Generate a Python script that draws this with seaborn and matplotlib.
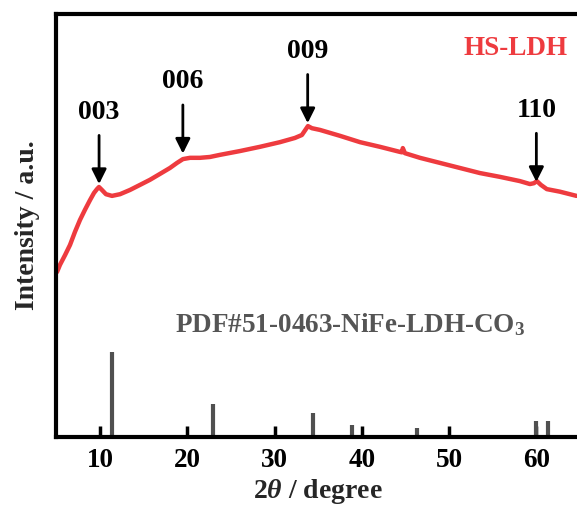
import matplotlib
matplotlib.use("Agg")
import matplotlib.pyplot as plt
import seaborn as sns
import pandas as pd

# ---- data ----
two_theta = [5.08, 5.42, 6.0, 6.57, 7.14, 7.71, 8.28, 8.86, 9.32, 9.66, 9.89, 10.23, 10.69,
             11.38, 12.3, 13.44, 14.59, 15.73, 16.88, 18.02, 18.83, 19.51, 20.32, 21.46,
             22.6, 23.75, 26.04, 28.33, 30.62, 32.34, 33.14, 33.6, 33.83, 34.29, 35.2,
             37.5, 39.8, 42.08, 44.37, 44.6, 44.7, 44.94, 46.66, 48.95, 51.24, 53.53, 55.82,
             58.11, 59.26, 59.72, 60.06, 60.52, 61.2, 62.69, 64.6]
intensity = [39.0, 40.7, 43.0, 45.4, 48.5, 51.3, 53.7, 56.0, 57.7, 58.6, 59.1, 58.4, 57.4,
             57.0, 57.4, 58.4, 59.6, 60.8, 62.2, 63.6, 64.8, 65.7, 66.0, 66.0,
             66.2, 66.7, 67.6, 68.6, 69.7, 70.7, 71.4, 72.8, 73.5, 73.0, 72.6,
             71.2, 69.7, 68.6, 67.4, 67.3, 68.3, 67.1, 66.0, 64.8, 63.6, 62.4, 61.5,
             60.5, 59.8, 60.0, 60.5, 59.6, 58.6, 58.0, 57.0]

pdf_pos = [11.4, 23.0, 34.4, 38.9, 46.3, 60.0, 61.3]
pdf_int = [20.1, 7.8, 5.7, 2.8, 2.1, 3.8, 3.8]

peak_labels = ["003", "006", "009", "110"]
peak_pos = [9.9, 19.5, 33.8, 60.0]
peak_tip = [59.8, 67.0, 74.2, 60.3]

x_ticks = [10, 20, 30, 40, 50, 60]

# ---- style ----
sns.set_style("ticks")
plt.rcParams["font.family"] = ["Liberation Serif", "DejaVu Serif"]
plt.rcParams["font.weight"] = "bold"
plt.rcParams["mathtext.fontset"] = "custom"
plt.rcParams["mathtext.rm"] = "Liberation Serif:bold"
plt.rcParams["mathtext.bf"] = "Liberation Serif:bold"
plt.rcParams["mathtext.it"] = "Liberation Serif:italic:bold"

fig = plt.figure(figsize=(5.77, 5.14), dpi=100)
ax = fig.add_axes([56.3 / 577, (514 - 437) / 514, (580 - 56.3) / 577, 423 / 514])

red = "#EE3B3F"
df = pd.DataFrame({"x": two_theta, "y": intensity})
sns.lineplot(data=df, x="x", y="y", ax=ax, color=red, lw=3.2, sort=False)

ax.vlines(pdf_pos, 0, pdf_int, color="#505050", lw=3)

for lab, px, tip in zip(peak_labels, peak_pos, peak_tip):
    ax.annotate("", xy=(px, tip), xytext=(px, tip + 11.5),
                arrowprops=dict(arrowstyle="-|>", lw=2, color="black",
                                mutation_scale=22, shrinkA=0, shrinkB=0))
    ax.text(px, tip + 14.0, lab, ha="center", va="bottom", fontsize=20,
            fontweight="bold", color="black")

ax.text(63.6, 91.8, "HS-LDH", ha="right", va="center", fontsize=19.5,
        fontweight="bold", color=red)
ax.text(18.6, 26.5, "PDF#51-0463-NiFe-LDH-CO$_3$", ha="left", va="center",
        fontsize=19.5, fontweight="bold", color="#555555")

ax.set_xlim(5, 65)
ax.set_ylim(0, 100)
ax.set_xticks(x_ticks)
ax.set_xticklabels([str(t) for t in x_ticks], fontsize=19.5, fontweight="bold")
ax.set_yticks([])
ax.set_xlabel(r"2$\theta$ / degree", fontsize=20, fontweight="bold", labelpad=3)
ax.set_ylabel("Intensity / a.u.", fontsize=20, fontweight="bold", labelpad=12)
ax.tick_params(axis="x", direction="in", length=8, width=2.5, pad=8, colors="black")
for s in ax.spines.values():
    s.set_linewidth(3)
    s.set_color("black")

fig.savefig("out.png", dpi=100)
